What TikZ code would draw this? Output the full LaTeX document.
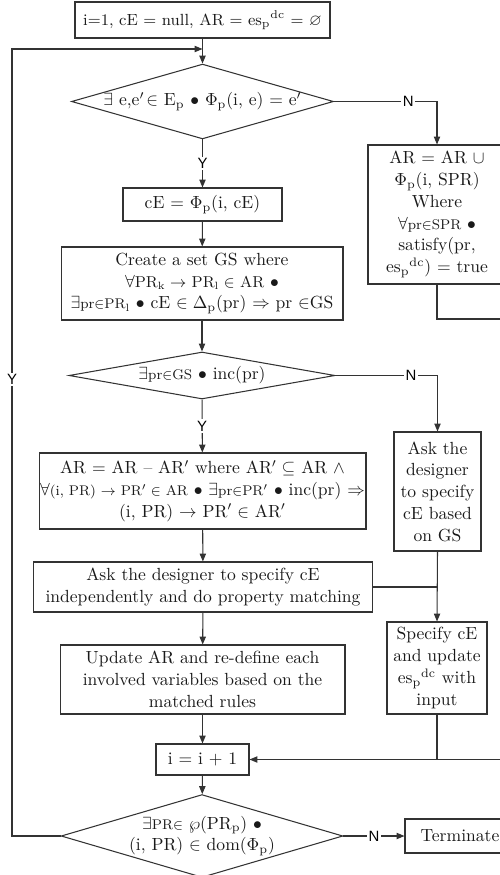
\documentclass[tikz,border=0pt]{standalone}
\usepackage{amssymb}
\usepackage{fontspec}
\newfontfamily\lblfont{Liberation Sans}
\usetikzlibrary{arrows.meta,shapes.geometric}
\begin{document}
\begin{tikzpicture}[x=0.02cm,y=-0.02cm,
  every node/.style={font=\fontsize{10}{12.4}\selectfont, text=black!90},
  line/.style={draw=black!80, line width=0.6pt},
  arr/.style={line, -{Triangle[length=4.5pt,width=3.6pt]}},
  box/.style={draw=black!80, line width=0.6pt, rectangle, inner sep=0pt, align=center},
  dec/.style={draw=black!80, line width=0.6pt, diamond, inner sep=0pt, align=center},
  lbl/.style={font=\lblfont\fontsize{8.5}{10}\selectfont, fill=white, inner sep=1pt, text=black}]
\useasboundingbox (0,0) rectangle (500,875);

\node[box, minimum width=5.1cm, minimum height=0.72cm, font=\fontsize{9.2}{11}\selectfont] (T) at (202.5,20)
  {i=1, cE = null, AR = es$_{\mathrm p}{}^{\mathrm{dc}}$ = $\varnothing$};
\node[dec, minimum width=4.54cm, minimum height=1.30cm, aspect=3.5] (D1) at (202.5,101.5)
  {$\exists$ e,e$'\!\in$ E$_{\mathrm p}$ $\bullet$ $\Phi_{\mathrm p}$(i, e) = e$'$};
\node[box, minimum width=2.76cm, minimum height=2.78cm] (R1) at (437,214.5)
  {AR = AR $\cup$\\ $\Phi_{\mathrm p}$(i, SPR)\\ Where\\ $\forall${\footnotesize pr$\in$SPR} $\bullet$\\ satisfy(pr,\\ es$_{\mathrm p}{}^{\mathrm{dc}}$) = true};
\node[box, minimum width=3.18cm, minimum height=0.66cm] (C) at (202.5,204.5)
  {cE = $\Phi_{\mathrm p}$(i, cE)};
\node[box, minimum width=5.64cm, minimum height=1.46cm] (G) at (202,283.5)
  {Create a set GS where\\ $\forall${\small PR$_{\mathrm k}\to$ PR$_{\mathrm l}\in$ AR} $\bullet$\\ $\exists${\footnotesize pr$\in$PR$_{\mathrm l}$} $\bullet$ cE $\in\Delta_{\mathrm p}$(pr) $\Rightarrow$ pr $\in$GS};
\node[dec, minimum width=5.32cm, minimum height=0.94cm, aspect=5.6] (D2) at (202,375.5)
  {$\exists${\footnotesize pr$\in$GS} $\bullet$ inc(pr)};
\node[box, minimum width=6.54cm, minimum height=1.52cm] (AR) at (202.5,491)
  {AR = AR -- AR$'$ where AR$'\subseteq$ AR $\wedge$\\ $\forall${\footnotesize(i, PR) $\to$ PR$'\in$ AR} $\bullet$ $\exists${\footnotesize pr$\in$PR$'$} $\bullet$ inc(pr) $\Rightarrow$\\ (i, PR) $\to$ PR$'\in$ AR$'$};
\node[box, minimum width=1.74cm, minimum height=2.38cm] (A) at (437.5,491.5)
  {Ask the\\ designer\\ to specify\\ cE based\\ on GS};
\node[box, minimum width=6.8cm, minimum height=1.0cm] (IND) at (203,587)
  {Ask the designer to specify cE\\ independently and do property matching};
\node[box, minimum width=2.0cm, minimum height=1.84cm] (S) at (437,668)
  {Specify cE\\ and update\\ es$_{\mathrm p}{}^{\mathrm{dc}}$ with\\ input};
\node[box, minimum width=5.7cm, minimum height=1.38cm] (U) at (202.5,679.5)
  {Update AR and re-define each\\ involved variables based on the\\ matched rules};
\node[box, minimum width=1.86cm, minimum height=0.62cm] (I) at (202.5,759.5)
  {i = i + 1};
\node[dec, minimum width=4.92cm, minimum height=1.44cm, aspect=3.4] (D3) at (202,836)
  {$\exists${\footnotesize PR$\in$} $\wp$(PR$_{\mathrm p}$) $\bullet$\\ (i, PR) $\in$ dom($\Phi_{\mathrm p}$)};
\node[box, minimum width=2.2cm, minimum height=0.68cm] (TM) at (460,836)
  {Terminate};

\coordinate (jn) at (202.5,49);
\coordinate (lp) at (12,49);
\coordinate (rA) at (514,319);

\draw[arr] (T) -- (D1);
\draw[arr] (D1.east) -| node[lbl, pos=0.36]{N} (R1.north);
\draw[arr] (D1) -- node[lbl]{Y} (C);
\draw[arr] (C) -- (G);
\draw[arr] (G) -- (D2);
\draw[arr] (D2.east) -| node[lbl, pos=0.37]{N} (A.north);
\draw[arr] (D2) -- node[lbl]{Y} (AR);
\draw[arr] (AR) -- (IND);
\draw[arr] (IND) -- (U);
\draw[line] (IND.east) -- (IND.east -| A.south);
\draw[arr] (A.south) -- (S.north);
\draw[line] (S.south) -- (S.south |- I.east);
\draw[arr] (R1.south) |- (rA) |- (I.east);
\draw[arr] (U) -- (I);
\draw[arr] (I) -- (D3);
\draw[arr] (D3.east) -- node[lbl]{N} (TM.west);
\draw[arr] (D3.west) -| node[lbl, pos=0.79]{Y} (lp) -- (jn);
\end{tikzpicture}
\end{document}
